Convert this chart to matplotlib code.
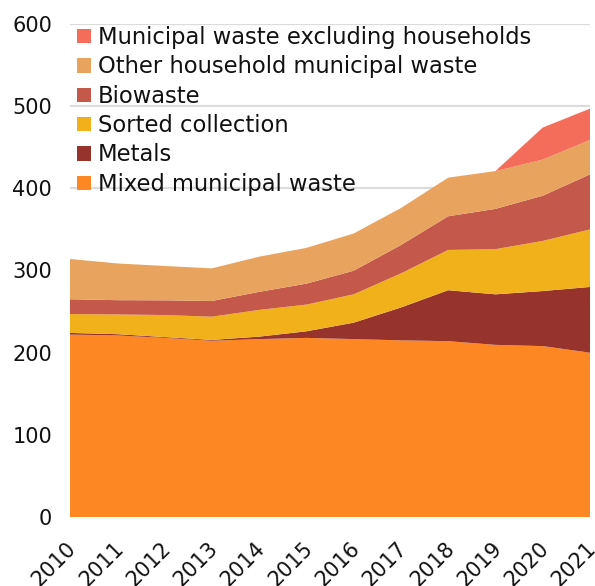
import numpy as np
import matplotlib.pyplot as plt
import matplotlib.transforms as mtransforms

years = list(range(2010, 2022))

mixed_municipal = [222, 221, 218, 214.5, 216.5, 218, 216.5, 215, 214, 209.5, 208, 200]
metals = [2, 1.5, 1, 1, 3, 8, 20, 40, 62, 61.5, 67, 80]
sorted_collection = [23, 24, 26.8, 28.3, 32.5, 32.5, 34.5, 41.5, 49, 55, 61, 70]
biowaste = [18, 17.4, 17.9, 19.1, 22, 25.5, 28.7, 34.5, 41, 49, 55, 67]
other_household = [49, 44.7, 41.8, 39.7, 42.8, 43.5, 45.3, 45, 47, 46, 44, 42]
excl_households = [0, 0, 0, 0, 0, 0, 0, 0, 0, 0, 39, 38]

labels = ['Mixed municipal waste', 'Metals', 'Sorted collection', 'Biowaste',
          'Other household municipal waste', 'Municipal waste excluding households']
colors = ['#fc8723', '#95332c', '#f0b11b', '#c4584b', '#e8a35e', '#f46d5b']

fig = plt.figure(figsize=(5.95, 5.86), dpi=100)
ax = fig.add_axes([70/595, 1 - 517/586, 520/595, 493/586])

ax.stackplot(years, mixed_municipal, metals, sorted_collection, biowaste,
             other_household, excl_households, labels=labels, colors=colors,
             linewidth=0, zorder=2)

ax.set_xlim(2010, 2021)
ax.set_ylim(0, 600)
ax.set_yticks(range(0, 601, 100))
ax.set_xticks(years)
ax.set_xticklabels([str(y) for y in years], rotation=45, ha='right',
                   va='top', rotation_mode='anchor')
ax.tick_params(length=0, labelsize=15, colors='#111111')
ax.tick_params(axis='y', pad=13)
ax.tick_params(axis='x', pad=15)

# nudge the rotated year labels a little to the left
shift = mtransforms.ScaledTranslation(-4/100, 0, fig.dpi_scale_trans)
for lab in ax.get_xticklabels():
    lab.set_transform(lab.get_transform() + shift)

ax.grid(axis='y', color='#dcdcdc', linewidth=1.6, zorder=0)
ax.set_axisbelow(True)
for s in ax.spines.values():
    s.set_visible(False)

# legend in reverse stacking order, top-left inside the plot
handles, lbls = ax.get_legend_handles_labels()
leg = ax.legend(handles[::-1], lbls[::-1], loc='upper left', frameon=False,
                fontsize=16.3, handlelength=0.6, handleheight=0.6,
                handletextpad=0.32, labelspacing=0.28, borderpad=0,
                bbox_to_anchor=(7/520, 1 - 2/493), borderaxespad=0.0)
for t in leg.get_texts():
    t.set_color('#111111')

plt.savefig('out.png', dpi=100)
